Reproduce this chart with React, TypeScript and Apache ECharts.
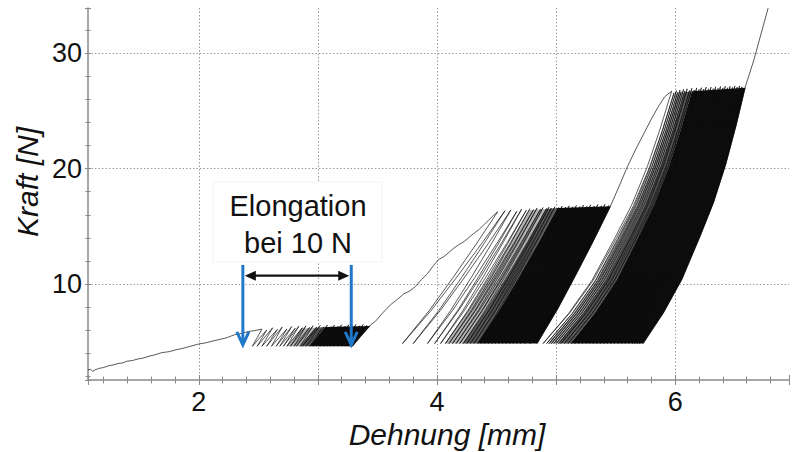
import React, { useEffect, useRef } from "react";
import * as echarts from "echarts";

// ---- axes -------------------------------------------------------------
const X_MIN = 1.07;
const X_MAX = 6.955;
const Y_MIN = 1.7;
const Y_MAX = 33.9;
const X_TICK_LABELS = [2, 4, 6];
const Y_TICK_LABELS = [10, 20, 30];

const X_TITLE = "Dehnung [mm]";
const Y_TITLE = "Kraft [N]";
const NOTE_LINES = ["Elongation", "bei 10 N"];

// ---- elongation marker (mm / N) ---------------------------------------
const ELONG_FROM = 2.37;
const ELONG_TO = 3.28;
const MARKER_TOP = 11.66;
const MARKER_TIP = 4.73;
const SPAN_FORCE = 10.73;

// ---- first loading from slack up to the first holding level -----------
const RAMP_INITIAL: [number, number][] = [
  [1.07, 2.57], [1.09, 2.63], [1.11, 2.45], [1.13, 2.58], [1.16, 2.7], [1.2, 2.78], [1.24, 2.92],
  [1.28, 3.0], [1.32, 3.12], [1.36, 3.18], [1.4, 3.33], [1.44, 3.38], [1.49, 3.52], [1.54, 3.62],
  [1.59, 3.78], [1.64, 3.9], [1.69, 4.07], [1.75, 4.15], [1.81, 4.32], [1.87, 4.45], [1.93, 4.62],
  [2.0, 4.82], [2.06, 4.92], [2.12, 5.08], [2.18, 5.22], [2.24, 5.38], [2.3, 5.62], [2.36, 5.74],
  [2.42, 5.9], [2.47, 5.98], [2.53, 6.1],
];

// ---- stage 1: cycling between ~4.6 N and ~6.3 N ------------------------
const STAGE1_LOW = 4.62;
const STAGE1_PEAKS: [number, number][] = [
  [2.53, 6.1], [2.57, 6.02], [2.62, 6.22], [2.66, 6.08], [2.7, 6.28], [2.74, 6.12], [2.78, 6.32],
  [2.81, 6.18], [2.84, 6.35], [2.87, 6.22], [2.9, 6.38], [2.93, 6.25], [2.96, 6.4], [2.99, 6.28],
  [3.02, 6.42], [3.05, 6.3], [3.08, 6.45], [3.11, 6.32], [3.14, 6.46], [3.17, 6.34], [3.2, 6.48],
  [3.23, 6.36], [3.26, 6.48], [3.29, 6.38], [3.32, 6.5], [3.35, 6.4], [3.38, 6.5], [3.41, 6.42],
  [3.44, 6.46],
];
const STAGE1_BOTTOMS = [
  2.45, 2.49, 2.53, 2.57, 2.61, 2.65, 2.68, 2.71, 2.74, 2.77, 2.8, 2.82, 2.85, 2.87, 2.9, 2.93,
  2.96, 2.99, 3.02, 3.05, 3.08, 3.11, 3.14, 3.17, 3.2, 3.23, 3.26, 3.29,
];
const STAGE1_SHAPE_F = [0, 0.5, 1];
const STAGE1_SHAPE_X = [0, 0.5, 1];
// dense part of the stage-1 band: [bottom x, peak x, peak force]
const STAGE1_DENSE: [number, number, number][] = [
  [2.74, 2.86, 6.15], [2.85, 2.98, 6.22], [2.93, 3.06, 6.28], [3.29, 3.44, 6.38],
];

// ---- loading from stage 1 to stage 2 ----------------------------------
const RAMP_TO_STAGE2: [number, number][] = [
  [3.44, 6.46], [3.48, 6.75], [3.53, 7.35], [3.58, 7.9], [3.62, 8.3], [3.67, 8.7], [3.72, 9.15],
  [3.77, 9.4], [3.82, 9.8], [3.87, 10.4], [3.92, 10.9], [3.97, 11.6], [4.01, 12.1], [4.06, 12.4],
  [4.1, 12.75], [4.14, 13.1], [4.18, 13.4], [4.23, 13.7], [4.27, 14.05], [4.31, 14.4], [4.35, 14.7],
  [4.39, 15.1], [4.43, 15.5], [4.47, 15.9], [4.51, 16.27],
];

// ---- stage 2: cycling between ~4.85 N and ~16.5 N ----------------------
const STAGE2_LOW = 4.85;
const STAGE2_PEAKS: [number, number][] = [
  [4.51, 16.27], [4.57, 16.35], [4.62, 16.42], [4.67, 16.3], [4.71, 16.48], [4.75, 16.4],
  [4.78, 16.52], [4.81, 16.45], [4.84, 16.58], [4.87, 16.5], [4.89, 16.62], [4.92, 16.55],
  [4.94, 16.66], [4.96, 16.58], [4.99, 16.7], [5.02, 16.62], [5.05, 16.74], [5.08, 16.66],
  [5.11, 16.78], [5.14, 16.7], [5.17, 16.8], [5.2, 16.72], [5.23, 16.84], [5.26, 16.74],
  [5.29, 16.86], [5.32, 16.76], [5.35, 16.88], [5.38, 16.78], [5.41, 16.9], [5.44, 16.8],
  [5.46, 16.85],
];
const STAGE2_BOTTOMS = [
  3.71, 3.8, 3.92, 3.98, 4.03, 4.07, 4.1, 4.13, 4.16, 4.19, 4.22, 4.25, 4.28, 4.31, 4.34, 4.37,
  4.4, 4.43, 4.46, 4.49, 4.52, 4.55, 4.58, 4.61, 4.64, 4.67, 4.7, 4.74, 4.78, 4.84,
];
const STAGE2_SHAPE_F = [0, 0.25, 0.5, 0.75, 1];
const STAGE2_SHAPE_X = [0, 0.28, 0.53, 0.77, 1];
const STAGE2_DENSE: [number, number, number][] = [
  [4.07, 4.78, 16.4], [4.22, 4.92, 16.5], [4.34, 5.01, 16.58], [4.84, 5.46, 16.75],
];

// ---- loading from stage 2 to stage 3 ----------------------------------
const RAMP_TO_STAGE3: [number, number][] = [
  [5.46, 16.85], [5.53, 18.5], [5.6, 20.2], [5.67, 21.7], [5.74, 23.1], [5.8, 24.3],
  [5.86, 25.4], [5.91, 26.2], [5.97, 26.7],
];

// ---- stage 3: cycling between ~4.85 N and ~27 N ------------------------
const STAGE3_LOW = 4.85;
const STAGE3_PEAKS: [number, number][] = [
  [5.97, 26.7], [5.99, 26.55], [6.01, 26.75], [6.02, 26.6], [6.04, 26.8], [6.05, 26.65],
  [6.07, 26.85], [6.08, 26.7], [6.1, 26.9], [6.12, 26.75], [6.14, 26.95], [6.16, 26.8],
  [6.18, 26.98], [6.2, 26.85], [6.22, 27.0], [6.24, 26.88], [6.26, 27.05], [6.28, 26.9],
  [6.3, 27.05], [6.32, 26.92], [6.34, 27.08], [6.36, 26.95], [6.38, 27.1], [6.4, 26.98],
  [6.42, 27.12], [6.44, 27.0], [6.46, 27.12], [6.48, 27.02], [6.5, 27.15], [6.52, 27.05],
  [6.54, 27.15], [6.56, 27.08], [6.59, 27.15],
];
const STAGE3_BOTTOMS = [
  4.89, 4.92, 4.94, 4.96, 4.98, 5.0, 5.02, 5.04, 5.07, 5.1, 5.13, 5.16, 5.19, 5.22, 5.25, 5.28,
  5.31, 5.34, 5.37, 5.4, 5.43, 5.46, 5.49, 5.52, 5.55, 5.58, 5.61, 5.64, 5.66, 5.68, 5.7, 5.73,
];
const STAGE3_SHAPE_F = [0, 0.12, 0.25, 0.42, 0.55, 0.7, 0.85, 1];
const STAGE3_SHAPE_X = [0, 0.2, 0.38, 0.56, 0.69, 0.81, 0.91, 1];
const STAGE3_DENSE: [number, number, number][] = [
  [4.93, 6.02, 26.55], [5.02, 6.08, 26.6], [5.12, 6.14, 26.7], [5.73, 6.59, 27.0],
];

// ---- final pull to failure ---------------------------------------------
const RAMP_FINAL: [number, number][] = [
  [6.59, 27.15], [6.62, 28.1], [6.66, 29.4], [6.7, 30.9], [6.74, 32.4], [6.78, 33.9],
];

// ---- styling -----------------------------------------------------------
const FONT = '"Liberation Sans", Arial, Helvetica, sans-serif';
const AXIS_GREY = "#8a8a8a";
const GRID_GREY = "#9a9a9a";
const CURVE_COLOR = "#111111";
const MARKER_BLUE = "#1f78c8";
const DENSE_ALPHAS = [0.3, 0.65, 0.96];

type Pt = [number, number];

// one branch of a cycle, from the lower force at xb up to the peak (xp, fp)
function branch(xb: number, low: number, xp: number, fp: number, sf: number[], sx: number[]): Pt[] {
  return sf.map((u, k) => [xb + (xp - xb) * sx[k], low + (fp - low) * u] as Pt);
}

function stagePath(peaks: Pt[], bottoms: number[], low: number, sf: number[], sx: number[]): Pt[] {
  const pts: Pt[] = [];
  for (let i = 0; i < bottoms.length; i++) {
    const [px0, pf0] = peaks[i];
    const [px1, pf1] = peaks[i + 1];
    const xb = bottoms[i];
    pts.push(...branch(xb, low, px0, pf0, sf, sx).reverse().slice(1));
    pts.push(...branch(xb, low, px1, pf1, sf, sx).slice(1));
  }
  return pts;
}

function buildCurve(): Pt[] {
  return [
    ...RAMP_INITIAL,
    ...stagePath(STAGE1_PEAKS, STAGE1_BOTTOMS, STAGE1_LOW, STAGE1_SHAPE_F, STAGE1_SHAPE_X),
    ...RAMP_TO_STAGE2.slice(1),
    ...stagePath(STAGE2_PEAKS, STAGE2_BOTTOMS, STAGE2_LOW, STAGE2_SHAPE_F, STAGE2_SHAPE_X),
    ...RAMP_TO_STAGE3.slice(1),
    ...stagePath(STAGE3_PEAKS, STAGE3_BOTTOMS, STAGE3_LOW, STAGE3_SHAPE_F, STAGE3_SHAPE_X),
    ...RAMP_FINAL.slice(1),
  ];
}

interface Strip {
  low: number;
  sf: number[];
  sx: number[];
  a: [number, number, number];
  b: [number, number, number];
  alpha: number;
}

function buildStrips(): Strip[] {
  const stages: [number, number[], number[], [number, number, number][]][] = [
    [STAGE1_LOW, STAGE1_SHAPE_F, STAGE1_SHAPE_X, STAGE1_DENSE],
    [STAGE2_LOW, STAGE2_SHAPE_F, STAGE2_SHAPE_X, STAGE2_DENSE],
    [STAGE3_LOW, STAGE3_SHAPE_F, STAGE3_SHAPE_X, STAGE3_DENSE],
  ];
  const strips: Strip[] = [];
  stages.forEach(([low, sf, sx, edges]) => {
    for (let i = 0; i < edges.length - 1; i++) {
      strips.push({ low, sf, sx, a: edges[i], b: edges[i + 1], alpha: DENSE_ALPHAS[i] });
    }
  });
  return strips;
}

function isTick(v: number, list: number[]) {
  const r = Math.round(v);
  return Math.abs(v - r) < 1e-6 && list.includes(r);
}

export default function App() {
  const ref = useRef<HTMLDivElement>(null);

  useEffect(() => {
    document.body.style.margin = "0";
    if (!ref.current) return;
    const chart = echarts.init(ref.current, undefined, { renderer: "svg" });

    const curve = buildCurve();
    const strips = buildStrips();

    const baseX = {
      type: "value" as const,
      min: X_MIN,
      max: X_MAX,
      splitNumber: 5,
      position: "bottom" as const,
    };
    const baseY = {
      type: "value" as const,
      min: Y_MIN,
      max: Y_MAX,
      splitNumber: 3,
      position: "left" as const,
    };
    const tickStyle = { color: AXIS_GREY, width: 1 };

    chart.setOption({
      animation: false,
      backgroundColor: "#ffffff",
      grid: { left: 88, top: 8, right: 0, bottom: 72, containLabel: false },
      xAxis: [
        {
          ...baseX,
          axisLine: { show: true, onZero: false, lineStyle: { color: AXIS_GREY, width: 1.5 } },
          axisTick: { show: true, length: 5, lineStyle: tickStyle },
          minorTick: { show: true, splitNumber: 5, length: 3.5, lineStyle: tickStyle },
          axisLabel: {
            show: true,
            margin: 8,
            fontSize: 27,
            fontFamily: FONT,
            color: "#111",
            formatter: (v: number) => (isTick(v, X_TICK_LABELS) ? String(Math.round(v)) : ""),
          },
          splitLine: {
            show: true,
            showMinLine: false,
            showMaxLine: false,
            lineStyle: { color: GRID_GREY, type: [1.5, 2], width: 1 },
          },
        },
        {
          ...baseX,
          axisLine: { show: false },
          axisTick: { show: true, inside: true, length: 5, lineStyle: tickStyle },
          minorTick: { show: true, splitNumber: 5, length: 3.5, lineStyle: tickStyle },
          axisLabel: { show: false },
          splitLine: { show: false },
        },
      ],
      yAxis: [
        {
          ...baseY,
          axisLine: { show: true, onZero: false, lineStyle: { color: AXIS_GREY, width: 1.5 } },
          axisTick: { show: true, length: 3, lineStyle: tickStyle },
          minorTick: { show: true, splitNumber: 5, length: 2.5, lineStyle: tickStyle },
          axisLabel: {
            show: true,
            margin: 6,
            fontSize: 27,
            fontFamily: FONT,
            color: "#111",
            formatter: (v: number) => (isTick(v, Y_TICK_LABELS) ? String(Math.round(v)) : ""),
          },
          splitLine: {
            show: true,
            showMinLine: false,
            showMaxLine: false,
            lineStyle: { color: GRID_GREY, type: [1.5, 2], width: 1 },
          },
        },
        {
          ...baseY,
          axisLine: { show: false },
          axisTick: { show: true, inside: true, length: 3, lineStyle: tickStyle },
          minorTick: { show: true, splitNumber: 5, length: 2.5, lineStyle: tickStyle },
          axisLabel: { show: false },
          splitLine: { show: false },
        },
      ],
      series: [
        {
          // dense shading of the cycling bands
          type: "custom",
          xAxisIndex: 0,
          yAxisIndex: 0,
          z: 1,
          silent: true,
          data: strips.map((s) => [s.a[0], s.low]),
          renderItem: (params: any, api: any) => {
            const s = strips[params.dataIndex];
            const left = branch(s.a[0], s.low, s.a[1], s.a[2], s.sf, s.sx);
            const right = branch(s.b[0], s.low, s.b[1], s.b[2], s.sf, s.sx).reverse();
            const points = [...left, ...right].map((p) => api.coord(p));
            return {
              type: "polygon",
              shape: { points },
              style: { fill: `rgba(0,0,0,${s.alpha})`, stroke: "none" },
            };
          },
        },
        {
          name: "Kraft",
          type: "line",
          xAxisIndex: 0,
          yAxisIndex: 0,
          z: 2,
          silent: true,
          showSymbol: false,
          symbol: "none",
          data: curve,
          lineStyle: { color: CURVE_COLOR, width: 0.7 },
          emphasis: { disabled: true },
        },
        {
          // elongation marker: two blue drop lines and a double arrow between them
          type: "custom",
          xAxisIndex: 0,
          yAxisIndex: 0,
          z: 5,
          silent: true,
          data: [[ELONG_FROM, SPAN_FORCE]],
          renderItem: (_params: any, api: any) => {
            const lTop = api.coord([ELONG_FROM, MARKER_TOP]);
            const lTip = api.coord([ELONG_FROM, MARKER_TIP]);
            const rTop = api.coord([ELONG_TO, MARKER_TOP]);
            const rTip = api.coord([ELONG_TO, MARKER_TIP]);
            const sL = api.coord([ELONG_FROM, SPAN_FORCE]);
            const sR = api.coord([ELONG_TO, SPAN_FORCE]);
            const blue = { stroke: MARKER_BLUE, lineWidth: 3, fill: "none" };
            const head = (t: number[]) => [
              [t[0] - 6, t[1] - 13],
              [t[0], t[1]],
              [t[0] + 6, t[1] - 13],
            ];
            const y = sL[1];
            const x1 = sL[0] + 2;
            const x2 = sR[0] - 2;
            return {
              type: "group",
              children: [
                { type: "line", shape: { x1: lTop[0], y1: lTop[1], x2: lTip[0], y2: lTip[1] - 1 }, style: blue },
                { type: "polyline", shape: { points: head(lTip) }, style: blue },
                { type: "line", shape: { x1: rTop[0], y1: rTop[1], x2: rTip[0], y2: rTip[1] - 1 }, style: blue },
                { type: "polyline", shape: { points: head(rTip) }, style: blue },
                { type: "line", shape: { x1: x1 + 6, y1: y, x2: x2 - 6, y2: y }, style: { stroke: "#111", lineWidth: 2.2 } },
                { type: "polygon", shape: { points: [[x1, y], [x1 + 11, y - 5], [x1 + 11, y + 5]] }, style: { fill: "#111" } },
                { type: "polygon", shape: { points: [[x2, y], [x2 - 11, y - 5], [x2 - 11, y + 5]] }, style: { fill: "#111" } },
              ],
            };
          },
        },
      ],
      graphic: [
        {
          type: "rect",
          z: 100,
          shape: { x: 213, y: 182, width: 169, height: 80 },
          style: { fill: "#ffffff", stroke: "#f4f4f4", lineWidth: 1 },
        },
        {
          type: "text",
          z: 101,
          x: 298,
          y: 206,
          style: { text: NOTE_LINES[0], font: `29px ${FONT}`, fill: "#111", align: "center", verticalAlign: "middle" },
        },
        {
          type: "text",
          z: 101,
          x: 298,
          y: 243,
          style: { text: NOTE_LINES[1], font: `29px ${FONT}`, fill: "#111", align: "center", verticalAlign: "middle" },
        },
        {
          type: "text",
          z: 101,
          x: 447,
          y: 434,
          style: { text: X_TITLE, font: `italic 30px ${FONT}`, fill: "#111", align: "center", verticalAlign: "middle" },
        },
        {
          type: "text",
          z: 101,
          x: 27,
          y: 182,
          rotation: Math.PI / 2,
          style: { text: Y_TITLE, font: `italic 30px ${FONT}`, fill: "#111", align: "center", verticalAlign: "middle" },
        },
      ],
    });

    return () => chart.dispose();
  }, []);

  return <div ref={ref} style={{ width: 792, height: 452 }} />;
}
